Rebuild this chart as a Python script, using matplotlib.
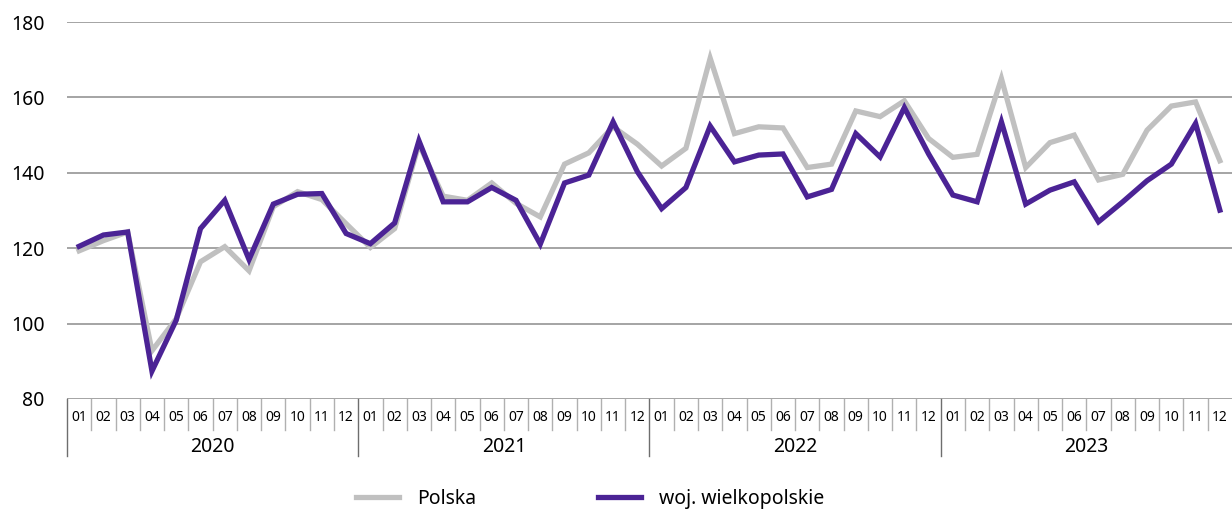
import matplotlib
matplotlib.use("Agg")
import matplotlib.pyplot as plt
import matplotlib.transforms as mtransforms

plt.rcParams['font.family'] = ['Noto Sans', 'DejaVu Sans']

years = ["2020", "2021", "2022", "2023"]
months = ["01", "02", "03", "04", "05", "06", "07", "08", "09", "10", "11", "12"]

polska = [
    119.3, 122.0, 124.3, 92.8, 101.3, 116.4, 120.4, 114.0, 131.0, 135.0, 132.9, 126.5,
    120.2, 125.2, 147.6, 133.8, 132.7, 137.3, 131.9, 128.3, 142.3, 145.3, 152.2, 147.6,
    141.8, 146.5, 170.4, 150.4, 152.2, 151.9, 141.4, 142.3, 156.4, 154.9, 159.1, 149.1,
    144.1, 144.9, 165.0, 141.4, 148.0, 150.0, 138.1, 139.6, 151.3, 157.7, 158.8, 143.2,
]
wielkopolskie = [
    120.5, 123.5, 124.3, 87.4, 100.9, 125.2, 132.7, 117.0, 131.7, 134.3, 134.5, 123.9,
    121.2, 126.7, 148.5, 132.3, 132.3, 136.1, 132.7, 121.1, 137.3, 139.4, 153.5, 140.3,
    130.5, 136.1, 152.4, 142.9, 144.7, 145.0, 133.6, 135.6, 150.4, 144.2, 157.3, 145.0,
    134.1, 132.3, 153.5, 131.7, 135.4, 137.6, 127.0, 132.3, 137.9, 142.3, 153.1, 130.1,
]
yticks = [80, 100, 120, 140, 160, 180]

GRAY = "#c0c0c0"
PURPLE = "#4b2395"

fig = plt.figure(figsize=(12.32, 5.09), dpi=100)
ax = fig.add_axes([67 / 1232, 1 - 399 / 509, 1 - 67 / 1232, 377 / 509])

n = len(polska)
x = list(range(n))
ax.plot(x, polska, color=GRAY, lw=3.8, label="Polska", solid_joinstyle="miter", zorder=3)
ax.plot(x, wielkopolskie, color=PURPLE, lw=3.8, label="woj. wielkopolskie",
        solid_joinstyle="miter", zorder=4)

ax.set_xlim(-0.5, n - 0.5)
ax.set_ylim(80, 180)
ax.set_yticks(yticks)
ax.set_yticklabels([str(v) for v in yticks], fontsize=14)
ax.tick_params(axis="y", length=0, pad=16)
ax.set_xticks([])
for s in ax.spines.values():
    s.set_visible(False)
ax.grid(axis="y", color="#8c8c8c", lw=1.1)
ax.set_axisbelow(True)

trans = mtransforms.blended_transform_factory(ax.transData, ax.transAxes)
# month separators and labels
for i in range(n):
    bottom = -0.15 if i % 12 == 0 else -0.083
    color = "#6e6e6e" if i % 12 == 0 else "#b0b0b0"
    ax.plot([i - 0.5, i - 0.5], [0, bottom], transform=trans, color=color,
            lw=1.0, clip_on=False)
for i in range(n):
    ax.text(i, -0.05, months[i % 12], transform=trans, ha="center", va="center",
            fontsize=10, clip_on=False)
for k, yr in enumerate(years):
    ax.text(k * 12 + 5.5, -0.126, yr, transform=trans, ha="center", va="center",
            fontsize=14, clip_on=False)

fig.legend(loc="center", bbox_to_anchor=(0.479, 1 - 499 / 509), ncol=2, frameon=False,
           fontsize=14, handlelength=2.2, handletextpad=0.9, columnspacing=6.3)

fig.savefig("out.png", dpi=100)
